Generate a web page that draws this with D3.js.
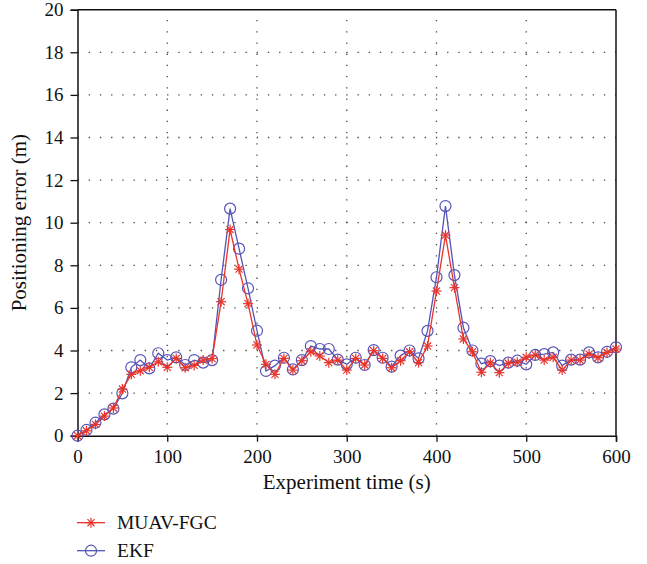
<!DOCTYPE html>
<html>
<head>
<meta charset="utf-8">
<script src="https://cdn.jsdelivr.net/npm/d3@7"></script>
<style>
  body { margin: 0; background: #fff; }
  svg text { font-family: 'Liberation Serif', 'Times New Roman', serif; fill: #111; }
</style>
</head>
<body>
<div id="chart"></div>
<script>
// experiment time (s)
var times = [0, 10, 20, 30, 40, 50, 60, 70, 80, 90,
    100, 110, 120, 130, 140, 150, 160, 170, 180, 190,
    200, 210, 220, 230, 240, 250, 260, 270, 280, 290,
    300, 310, 320, 330, 340, 350, 360, 370, 380, 390,
    400, 410, 420, 430, 440, 450, 460, 470, 480, 490,
    500, 510, 520, 530, 540, 550, 560, 570, 580, 590, 600];

var muavFgc = [0.00, 0.23, 0.53, 0.92, 1.30, 2.19, 2.88, 3.05, 3.21, 3.47,
    3.21, 3.63, 3.19, 3.30, 3.55, 3.62, 6.29, 9.68, 7.82, 6.20,
    4.26, 3.35, 2.88, 3.63, 3.08, 3.52, 3.94, 3.74, 3.43, 3.55,
    3.08, 3.63, 3.32, 3.99, 3.63, 3.19, 3.52, 3.94, 3.43, 4.21,
    6.79, 9.42, 6.95, 4.54, 3.94, 2.98, 3.42, 2.96, 3.40, 3.45,
    3.68, 3.79, 3.55, 3.68, 3.08, 3.55, 3.55, 3.83, 3.66, 3.91, 4.07];

var ekf = [0.00, 0.27, 0.61, 1.00, 1.27, 1.99, 3.21, 3.55, 3.16, 3.87,
    3.55, 3.68, 3.32, 3.55, 3.43, 3.55, 7.32, 10.66, 8.78, 6.92,
    4.93, 3.04, 3.29, 3.66, 3.11, 3.55, 4.21, 4.07, 4.07, 3.57,
    3.35, 3.66, 3.32, 4.02, 3.66, 3.24, 3.76, 4.00, 3.63, 4.92,
    7.44, 10.78, 7.54, 5.07, 4.00, 3.38, 3.50, 3.29, 3.43, 3.52,
    3.35, 3.79, 3.83, 3.91, 3.29, 3.57, 3.57, 3.91, 3.68, 3.94, 4.15];

var xTicks = [0, 100, 200, 300, 400, 500, 600];
var yTicks = [0, 2, 4, 6, 8, 10, 12, 14, 16, 18, 20];

var seriesNames = ['MUAV-FGC', 'EKF'];
var red = '#e8342a';
var blue = '#5454b8';

var margin = { left: 77.5, top: 9.7, right: 31, bottom: 128.3 };
var W = 647, H = 564;
var width = W - margin.left - margin.right;
var height = H - margin.top - margin.bottom;

var svg = d3.select('#chart')
    .append('svg')
    .attr('width', W)
    .attr('height', H);

var g = svg.append('g')
    .attr('transform', 'translate(' + margin.left + ', ' + margin.top + ')');

var x = d3.scaleLinear().domain([0, 600]).range([0, width]);
var y = d3.scaleLinear().domain([0, 20]).range([height, 0]);

// dotted grid
g.selectAll('.vgrid')
    .data(xTicks.slice(1, -1))
    .enter()
    .append('line')
    .attr('x1', d => x(d))
    .attr('x2', d => x(d))
    .attr('y1', height)
    .attr('y2', 0)
    .attr('stroke', '#444')
    .attr('stroke-width', 1.3)
    .attr('stroke-dasharray', '1.3,9.9');

g.selectAll('.hgrid')
    .data(yTicks.slice(1, -1))
    .enter()
    .append('line')
    .attr('x1', 0)
    .attr('x2', width)
    .attr('y1', d => y(d))
    .attr('y2', d => y(d))
    .attr('stroke', '#444')
    .attr('stroke-width', 1.3)
    .attr('stroke-dasharray', '1.3,9.9');

// axes
var xAxis = g.append('g')
    .attr('transform', 'translate(0, ' + height + ')')
    .call(d3.axisBottom(x).tickValues(xTicks).tickSize(6).tickPadding(8).tickFormat(d3.format('d')));

var yAxis = g.append('g')
    .call(d3.axisLeft(y).tickValues(yTicks).tickSize(7).tickPadding(7).tickFormat(d3.format('d')));

[xAxis, yAxis].forEach(function(a) {
    a.select('.domain').attr('stroke', '#111').attr('stroke-width', 1.5);
    a.selectAll('.tick line').attr('stroke', '#111').attr('stroke-width', 1.3);
    a.selectAll('.tick text')
        .attr('font-family', 'Liberation Serif')
        .attr('font-size', '19px')
        .attr('fill', '#111');
});

// top and right frame
g.append('line')
    .attr('x1', 0).attr('x2', width)
    .attr('y1', 0).attr('y2', 0)
    .attr('stroke', '#111').attr('stroke-width', 1.5);
g.append('line')
    .attr('x1', width).attr('x2', width)
    .attr('y1', 0).attr('y2', height)
    .attr('stroke', '#111').attr('stroke-width', 1.5);

// axis titles
svg.append('text')
    .attr('x', margin.left + width / 2)
    .attr('y', 489)
    .attr('text-anchor', 'middle')
    .attr('font-size', '21px')
    .text('Experiment time (s)');

svg.append('text')
    .attr('transform', 'translate(26, ' + (margin.top + height / 2) + ') rotate(-90)')
    .attr('text-anchor', 'middle')
    .attr('font-size', '21px')
    .text('Positioning error (m)');

var line = d3.line()
    .x((d, i) => x(times[i]))
    .y(d => y(d));

function drawStar(sel, cx, cy, r) {
    var s = sel.append('g')
        .attr('transform', 'translate(' + cx + ', ' + cy + ')')
        .attr('stroke', red)
        .attr('stroke-width', 1.2);
    for (let k = 0; k < 4; k++) {
        var a = k * Math.PI / 4;
        s.append('line')
            .attr('x1', -r * Math.cos(a)).attr('y1', -r * Math.sin(a))
            .attr('x2', r * Math.cos(a)).attr('y2', r * Math.sin(a));
    }
}

// EKF
g.append('path')
    .datum(ekf)
    .attr('d', line)
    .attr('fill', 'none')
    .attr('stroke', blue)
    .attr('stroke-width', 1.3);

g.selectAll('.ekf')
    .data(ekf)
    .enter()
    .append('circle')
    .attr('class', 'ekf')
    .attr('cx', (d, i) => x(times[i]))
    .attr('cy', d => y(d))
    .attr('r', 5.5)
    .attr('fill', 'none')
    .attr('stroke', blue)
    .attr('stroke-width', 1.2);

// MUAV-FGC
g.append('path')
    .datum(muavFgc)
    .attr('d', line)
    .attr('fill', 'none')
    .attr('stroke', red)
    .attr('stroke-width', 1.3);

var stars = g.append('g');
muavFgc.forEach(function(d, i) {
    drawStar(stars, x(times[i]), y(d), 5);
});

// legend
var legY = [522.7, 550.7];
var leg = svg.append('g');
seriesNames.forEach(function(name, i) {
    var col = i === 0 ? red : blue;
    leg.append('line')
        .attr('x1', 77).attr('x2', 105)
        .attr('y1', legY[i]).attr('y2', legY[i])
        .attr('stroke', col)
        .attr('stroke-width', 1.3);
    if (i === 0) {
        drawStar(leg, 91, legY[i], 5);
    } else {
        leg.append('circle')
            .attr('cx', 91).attr('cy', legY[i])
            .attr('r', 5.5)
            .attr('fill', 'none')
            .attr('stroke', blue)
            .attr('stroke-width', 1.2);
    }
    leg.append('text')
        .attr('x', 117)
        .attr('y', legY[i])
        .attr('dominant-baseline', 'central')
        .attr('font-size', '19.5px')
        .text(name);
});
</script>
</body>
</html>
